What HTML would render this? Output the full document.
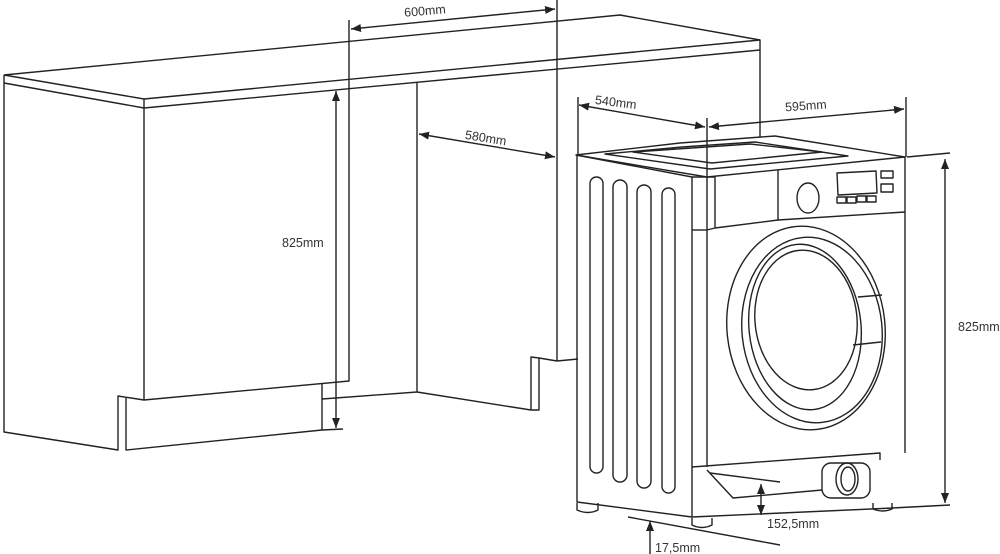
<!DOCTYPE html>
<html><head><meta charset="utf-8"><style>
html,body{margin:0;padding:0;background:#fff;}
svg{display:block;}
text{font-family:"Liberation Sans",sans-serif;font-size:12.5px;fill:#333;}
</style></head><body>
<svg width="1000" height="554" viewBox="0 0 1000 554" xmlns="http://www.w3.org/2000/svg">
<defs>
<marker id="a" viewBox="0 0 10 10" refX="10" refY="5" markerWidth="10" markerHeight="10" orient="auto-start-reverse" markerUnits="userSpaceOnUse"><path d="M0,1 L10,5 L0,9 Z" fill="#222"/></marker>
</defs>
<g fill="none" stroke="#222" stroke-width="1.4" stroke-linejoin="round">
<!-- countertop -->
<path d="M4,75 L620,15 L760,40 L760,50"/>
<path d="M4,75 L4,83 L144,108 L760,50"/>
<path d="M4,75 L144,99 L760,40"/>
<path d="M144,99 L144,108"/>
<!-- left cabinet -->
<path d="M4,83 L4,432 L118,450 L118,396 L144,400"/>
<path d="M144,108 L144,400 L349,381 L349,79"/>
<path d="M126,398 L126,450 L322,430 L322,384"/>
<path d="M322,399 L417,392 L417,82"/>
<path d="M417,392 L531,410 L531,357 L539,358 L539,410 L531,410"/>
<path d="M539,358 L557,361 L578,359"/>
<path d="M557,0 L557,361"/>
<path d="M349,20 L349,79"/>
<path d="M322,430 L343,429"/>
<!-- dimension lines left -->
<path d="M351,29 L555,9" marker-start="url(#a)" marker-end="url(#a)"/>
<path d="M419,134 L555,157" marker-start="url(#a)" marker-end="url(#a)"/>
<path d="M336,91 L336,428" marker-start="url(#a)" marker-end="url(#a)"/>
<!-- washer dims -->
<path d="M578,97 L578,155"/>
<path d="M707,118 L707,177"/>
<path d="M906,97 L906,157"/>
<path d="M760,50 L760,137"/>
<path d="M579,105 L705,127" marker-start="url(#a)" marker-end="url(#a)"/>
<path d="M709,127 L904,109" marker-start="url(#a)" marker-end="url(#a)"/>
<path d="M907,157 L950,153 M892,508 L950,505"/>
<path d="M945,159 L945,503" marker-start="url(#a)" marker-end="url(#a)"/>
<path d="M761,484 L761,515" marker-start="url(#a)" marker-end="url(#a)"/>
<path d="M650,554 L650,521" marker-end="url(#a)"/>
<path d="M628,517 L780,545"/>
<!-- washer top -->
<path d="M576,155 L680,143 L775,136 L905,157 L707,177 Z"/>
<path d="M605,154 L682,147 L755,142 L848,156 L710,169 Z"/>
<path d="M633,152 L750,144 L822,152 L712,163 Z"/>
<path d="M576,155 L692,177 L707,177"/>
<!-- washer body -->
<path d="M577,155 L577,502 L692,517 L893,508"/>
<path d="M692,177 L692,517"/>
<path d="M707,177 L707,467"/>
<path d="M905,157 L905,453"/>
<path d="M692,230 L707,230"/>
<path d="M707,177 L715,177 L715,228 L707,230"/>
<path d="M715,228 L778,220 L778,170"/>
<path d="M778,220 L905,212"/>
<!-- knob / display -->
<ellipse cx="808" cy="198" rx="11" ry="15"/>
<path d="M837,173 L876,171 L877,193 L838,195 Z"/>
<rect x="881" y="171" width="12" height="7"/>
<rect x="881" y="184" width="12" height="8"/>
<rect x="837" y="197" width="9" height="6"/><rect x="847" y="197" width="9" height="6"/><rect x="857" y="196" width="9" height="6"/><rect x="867" y="196" width="9" height="6"/>
<!-- door -->
<ellipse cx="806" cy="328" rx="79" ry="102" transform="rotate(-6 806 328)"/>
<ellipse cx="812" cy="330" rx="70" ry="93" transform="rotate(-6 812 330)"/>
<ellipse cx="805" cy="327" rx="56" ry="83" transform="rotate(-6 805 327)"/>
<ellipse cx="806" cy="320" rx="51" ry="70" transform="rotate(-6 806 320)"/>
<path d="M858,297 L882,295 M853,345 L881,342"/>
<!-- side slots -->
<rect x="590" y="177" width="13" height="296" rx="6.5"/>
<rect x="613" y="180" width="14" height="302" rx="7"/>
<rect x="637" y="185" width="14" height="303" rx="7"/>
<rect x="662" y="188" width="13" height="305" rx="6.5"/>
<!-- bottom -->
<path d="M692,467 L880,453 L880,460"/>
<path d="M707,470 L733,498 L822,490"/>
<path d="M710,473 L780,482"/>
<rect x="822" y="463" width="48" height="35" rx="9"/>
<ellipse cx="847" cy="479" rx="11" ry="16"/>
<ellipse cx="848" cy="479" rx="7" ry="12"/>
<!-- feet -->
<path d="M577,503 L577,510 Q588,515 598,510 L598,503"/>
<path d="M692,518 L692,525 Q702,530 712,525 L712,518"/>
<path d="M873,503 L873,509 Q883,513 892,509 L892,503"/>
</g>
<text x="404" y="15" transform="rotate(-5 425 10)">600mm</text>
<text x="465" y="142" transform="rotate(9 485 137)">580mm</text>
<text x="282" y="247">825mm</text>
<text x="595" y="106" transform="rotate(7 612 102)">540mm</text>
<text x="785" y="110" transform="rotate(-4 805 106)">595mm</text>
<text x="958" y="331">825mm</text>
<text x="767" y="528">152,5mm</text>
<text x="655" y="552">17,5mm</text>
</svg>
</body></html>
